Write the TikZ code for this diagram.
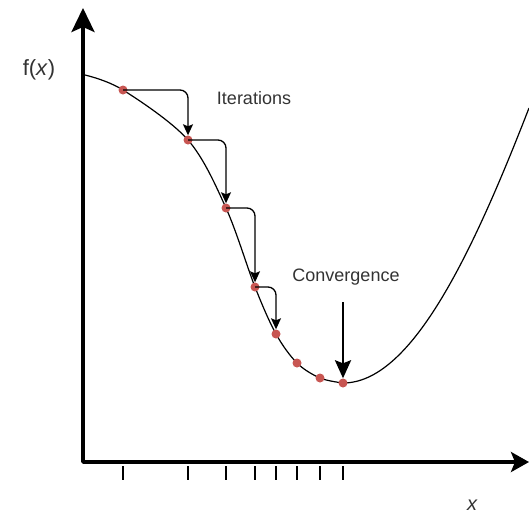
\documentclass[tikz,border=0pt]{standalone}
\usepackage{fontspec}
\setmainfont{Liberation Sans}
\usetikzlibrary{arrows.meta}
\definecolor{dotred}{RGB}{200,86,82}

\begin{document}
\begin{tikzpicture}[x=1pt, y=-1pt,
    axis/.style={line width=3.5pt, line join=round,
      {Stealth[length=24pt,width=23pt,inset=5pt]}-{Stealth[length=18pt,width=20pt,inset=4pt]}},
    curve/.style={line width=1.2pt},
    dot/.style={circle, fill=dotred, inner sep=0pt, minimum size=9pt},
    iter/.style={line width=1.3pt, rounded corners=8pt, -{Stealth[length=11pt,width=10pt,inset=2pt]}},
    conv/.style={line width=2.6pt, -{Stealth[length=18pt,width=16pt,inset=3pt]}},
    lbl/.style={font=\fontsize{18}{20}\selectfont, text=black!80}]
  \useasboundingbox (0,0) rectangle (529,514);

  % axes
  \coordinate (yend) at (83,8);
  \coordinate (O) at (83,462);
  \coordinate (xend) at (529,462);
  \draw[axis] (yend) -- (O) -- (xend);

  % the function
  \draw[curve] plot[smooth, tension=0.55] coordinates {(85,75) (123,90) (188,140) (226,208) (255,287)
    (276,334) (297,363) (320,378) (343,383)}
    .. controls (410,383) and (470,260) .. (529,108);

  % iterates and ticks
  \foreach \i/\x/\y in {1/123/90, 2/188/140, 3/226/208, 4/255/287, 5/276/334, 6/297/363, 7/320/378, 8/343/383}{
    \node[dot] (p\i) at (\x,\y) {};
    \draw[line width=2pt] (p\i |- O) ++(0,4) -- ++(0,14);
  }

  % steps
  \foreach \i [evaluate=\i as \j using int(\i+1)] in {1,...,4}
    \draw[iter] (p\i.center) -| (p\j.north);

  \coordinate (ctop) at (343,302);
  \draw[conv] (ctop) -- (p8.north);

  \node[lbl] (iterations) at (254,98) {Iterations};
  \node[lbl] (convergence) at (346,277) {Convergence};
  \node[lbl, font=\fontsize{22}{24}\selectfont] (fx) at (39,70) {f(\textit{x})};
  \node[lbl, font=\fontsize{20}{22}\selectfont\itshape] (xlbl) at (472,505) {x};
\end{tikzpicture}
\end{document}
